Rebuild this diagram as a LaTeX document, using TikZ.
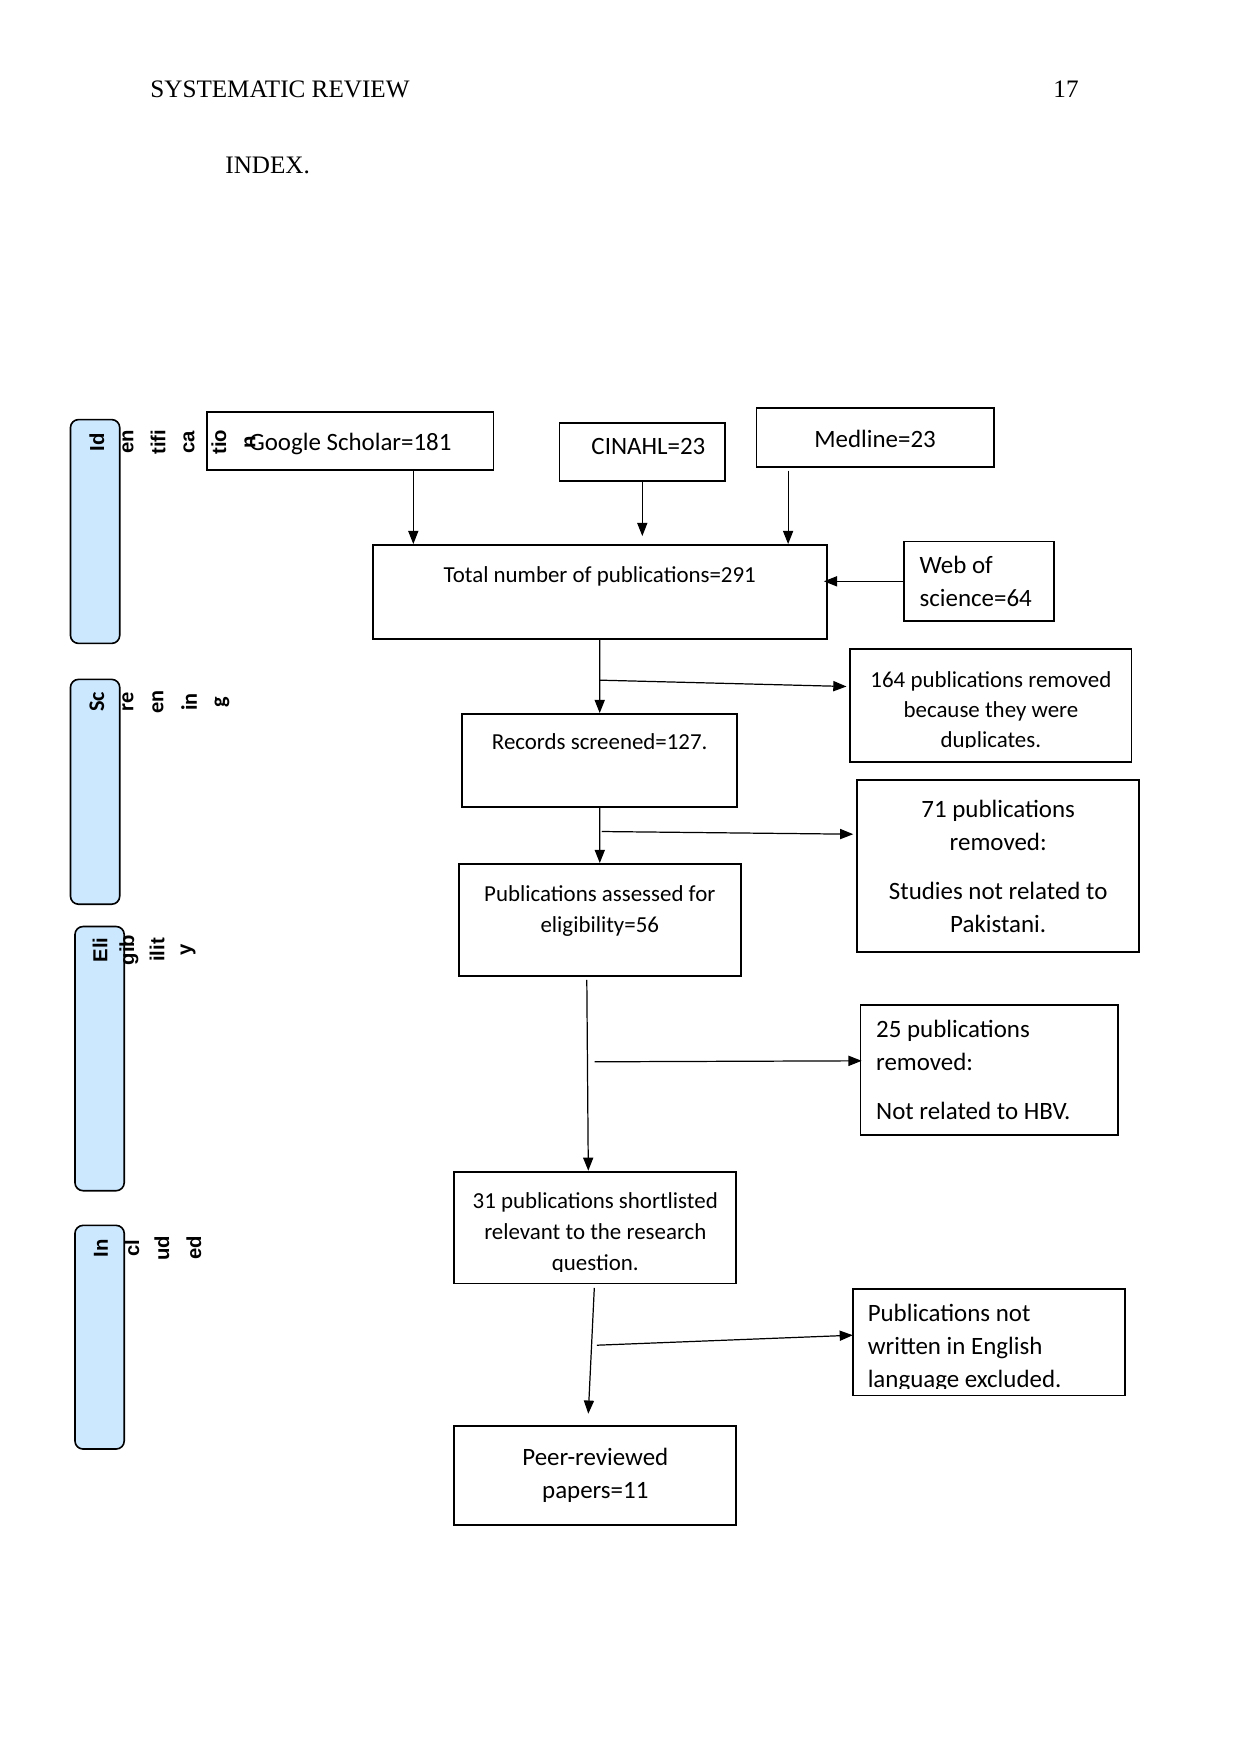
\documentclass[tikz,border=0pt]{standalone}
\usepackage{fontspec}
\setmainfont{Carlito}
\newfontfamily\headfont{Liberation Serif}
\newfontfamily\sidefont{Liberation Sans}
\usetikzlibrary{arrows.meta, calc}
\definecolor{barblue}{RGB}{204,232,255}
\tikzset{
  box/.style={draw, line width=0.9pt, inner sep=0pt, align=center, font=\fontsize{11.3}{14.8}\selectfont},
  bigbox/.style={box, font=\fontsize{12.3}{16.2}\selectfont},
  leftbox/.style={bigbox, align=flush left, inner xsep=7.7pt},
  txt/.style={inner sep=0pt, align=center, font=\fontsize{11.3}{15.2}\selectfont},
  bar/.style={draw, line width=0.8pt, fill=barblue, rounded corners=4pt, minimum width=24.3pt, inner sep=0pt},
  side/.style={rotate=90, inner sep=0pt, font=\sidefont\bfseries\fontsize{10}{12}\selectfont},
  sideb/.style={side, font=\bfseries\fontsize{11}{13}\selectfont},
  arr/.style={line width=0.6pt, -{Triangle[width=5pt,length=6.5pt]}},
  head/.style={inner sep=0pt, font=\headfont\fontsize{12.4}{14}\selectfont}
}
\begin{document}
\begin{tikzpicture}[x=0.4932pt, y=-0.4932pt]
  \useasboundingbox (0,0) rectangle (1241,1754);

  % page header
  \node[head, anchor=base west] (title) at (150,98) {SYSTEMATIC REVIEW};
  \node[head, anchor=base east] (page) at (1079,98) {17};
  \node[head, anchor=base west] (index) at (225,173) {INDEX.};

  % stage bars
  \node[bar, minimum height=110.4pt] (idbar) at (95.1,531.5) {};
  \node[bar, minimum height=110.9pt] (scbar) at (95.1,791.8) {};
  \node[bar, minimum height=130.3pt] (elbar) at (99.6,1058.6) {};
  \node[bar, minimum height=110.3pt] (inbar) at (99.6,1337.2) {};

  % sources
  \node[bigbox, minimum width=141.3pt, minimum height=28.7pt, text height=12.4pt, text depth=3pt] (google) at (350.3,440.9) {Google Scholar=181};
  \node[bigbox, minimum width=81.7pt, minimum height=28.7pt, text height=9pt, text depth=6.4pt] (cinahl) at (642.3,452.1) {\hspace*{6pt}CINAHL=23};
  \node[bigbox, minimum width=117pt, minimum height=28.7pt, text height=12.6pt, text depth=3pt] (medline) at (875.1,437.5) {Medline=23};
  \node[leftbox, minimum width=74pt, text width=58.6pt, minimum height=39.2pt] (web) at (979,581.3) {Web of\\science=64};

  % main column
  \node[box, minimum width=224.1pt, minimum height=46.4pt] (total) at (599.8,592) {};
  \node[txt] (total-t) at ($(total.north)+(0,32)$) {Total number of publications=291};
  \node[box, minimum width=135.8pt, minimum height=45.8pt] (screened) at (599.7,760.4) {};
  \node[txt] (screened-t) at ($(screened.north)+(0,29)$) {Records screened=127.};
  \node[box, minimum width=139.1pt, minimum height=55.2pt] (assessed) at (599.8,919.9) {};
  \node[txt] (assessed-t) at ($(assessed.north)+(0,48)$) {Publications assessed for\\eligibility=56};
  \node[box, minimum width=139.1pt, minimum height=55.2pt] (shortlisted) at (595.3,1227.6) {};
  \node[bigbox, minimum width=139.1pt, minimum height=49.1pt, font=\fontsize{12.3}{16.6}\selectfont] (peer) at (595.3,1475.4) {Peer-reviewed\\papers=11};

  % exclusions
  \node[box, minimum width=138.6pt, minimum height=55.7pt] (dup) at (990.9,705.5) {};
  \node[bigbox, minimum width=139.1pt, minimum height=85pt] (pakistani) at (998.2,866.2) {71 publications\\removed:\\[8pt]Studies not related to\\Pakistani.};
  \node[leftbox, minimum width=126.9pt, text width=111.5pt, minimum height=64pt] (hbv) at (989.2,1069.8) {25 publications\\removed:\\[8pt]Not related to HBV.};
  \node[box, minimum width=134.1pt, minimum height=52.5pt] (english) at (988.7,1342.2) {};

  % text cut off at the bottom of the boxes
  \begin{scope}
    \clip (dup.north west) rectangle ($(dup.north east)+(0,99)$);
    \node[txt, font=\fontsize{11.3}{14.8}\selectfont] (dup-t) at ($(dup.center)+(0,5.6)$) {164 publications removed\\because they were\\duplicates.};
  \end{scope}
  \begin{scope}
    \clip (shortlisted.north west) rectangle ($(shortlisted.north east)+(0,100.5)$);
    \node[txt] (shortlisted-t) at ($(shortlisted.center)+(0,5.6)$) {31 publications shortlisted\\relevant to the research\\question.};
  \end{scope}
  \begin{scope}
    \clip (english.north west) rectangle ($(english.north east)+(0,100.5)$);
    \node[txt, align=flush left, text width=118.7pt, anchor=west, font=\fontsize{12.3}{16.2}\selectfont] (english-t) at ($(english.west)+(15.5,6)$) {Publications not\\written in English\\language excluded.};
  \end{scope}

  % stage labels
  \node[side] (id1) at (97,442) {Id};   \node[side] (id2) at (128,442) {en};
  \node[side] (id3) at (158,442) {tifi}; \node[side] (id4) at (189,442) {ca};
  \node[side] (id5) at (219,442) {tio};  \node[side] (id6) at (250,442) {n};
  \node[sideb] (sc1) at (97,702) {Sc};   \node[sideb] (sc2) at (128,702) {re};
  \node[sideb] (sc3) at (158,702) {en};  \node[sideb] (sc4) at (189,702) {in};
  \node[sideb] (sc5) at (222,702) {g};
  \node[side] (el1) at (100,950) {Eli};  \node[side] (el2) at (129,950) {gib};
  \node[side] (el3) at (157,950) {ilit}; \node[side] (el4) at (188,950) {y};
  \node[side] (in1) at (101,1248) {In};  \node[side] (in2) at (132,1248) {cl};
  \node[side] (in3) at (162,1248) {ud};  \node[side] (in4) at (194,1248) {ed};

  % connectors
  \coordinate (gs) at ($(google.south)+(63,0)$);
  \coordinate (ms) at ($(medline.south)+(-87,3)$);
  \draw[arr] (gs) -- (gs |- total.north);
  \draw[arr] (cinahl.south) -- ($(cinahl.south |- total.north)+(0,-8)$);
  \draw[arr] (ms) -- (ms |- total.north);
  \draw[arr] (web.west) -- ($(web.west -| total.east)+(-4,0)$);
  \draw[arr] (total.south) -- (screened.north);
  \draw[arr] (screened.south) -- (assessed.north);
  \draw[arr] ($(assessed.south)+(-13,3)$) -- ($(shortlisted.north)+(-7,0)$);
  \draw[arr] ($(shortlisted.south)+(-1,3.5)$) -- ($(peer.north)+(-7,-11)$);

  \coordinate (d1) at ($(total.south)!0.55!(screened.north)$);
  \coordinate (d2) at ($(screened.south)!0.43!(assessed.north)+(2,0)$);
  \coordinate (d3) at ($(hbv.west)+(-265,-8)$);
  \coordinate (d4) at ($(english.west)+(-255,3)$);
  \draw[arr] (d1) -- ($(dup.west)+(-3,-19)$);
  \draw[arr] (d2) -- ($(pakistani.west)+(-3,-32)$);
  \draw[arr] (d3) -- ($(hbv.west)+(2,-9)$);
  \draw[arr] (d4) -- ($(english.west)+(1,-7)$);
\end{tikzpicture}
\end{document}
